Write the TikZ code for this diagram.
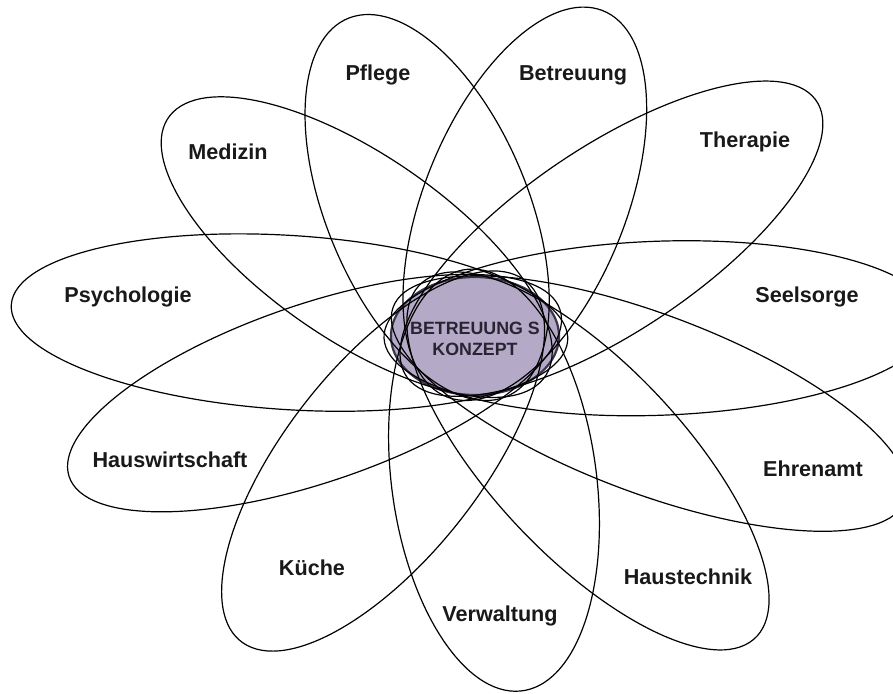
\documentclass[tikz,border=0pt]{standalone}
\usepackage{fontspec}
\setmainfont{Liberation Sans}
\definecolor{corefill}{RGB}{180,170,200}
\definecolor{coreedge}{RGB}{60,52,72}
\tikzset{
  petal/.style={draw=black, line width=0.6pt},
  lbl/.style={font=\fontsize{10.8}{13}\selectfont\bfseries, text=black!90, inner sep=0pt},
  core/.style={fill=corefill, draw=coreedge, line width=1.1pt},
  coretext/.style={font=\fontsize{8.9}{9}\selectfont\bfseries, text={rgb,255:red,40;green,36;blue,50}, align=center, inner sep=0pt}
}
\newcommand{\petal}[3]{%
  \draw[petal, rotate=#1] ({(#2-#3)/2},0) ellipse [x radius={(#2+#3)/2}, y radius=87];}
\begin{document}
\begin{tikzpicture}[x=0.5pt, y=0.5pt]
\useasboundingbox (-476,-358) rectangle (417,335);
\clip (-476,-358) rectangle (417,335);
\fill[white] (-476,-358) rectangle (417,335);
% central ellipse
\draw[core] (-1,-1) ellipse [x radius=84, y radius=59];
% petals
\begin{scope}[xscale=1.18]
\petal{108}{335}{66.9}
\petal{72.5}{342}{66.8}
\petal{40}{372}{72.3}
\petal{2.5}{388}{78}
\petal{-25}{400}{75.7}
\petal{-53}{385}{69.7}
\petal{-84}{358}{66.1}
\petal{-122}{366}{68.8}
\petal{-157}{373}{75.7}
\petal{175.5}{395}{77.9}
\petal{139}{340}{72.1}
\end{scope}
% labels
\node[lbl] (pflege) at (-98,260) {Pflege};
\node[lbl] (betreuung) at (97,260) {Betreuung};
\node[lbl] (therapie) at (269,193) {Therapie};
\node[lbl] (seelsorge) at (331,38) {Seelsorge};
\node[lbl] (ehrenamt) at (337,-134) {Ehrenamt};
\node[lbl] (haustechnik) at (212,-242) {Haustechnik};
\node[lbl] (verwaltung) at (24,-281) {Verwaltung};
\node[lbl] (kueche) at (-164,-233) {Küche};
\node[lbl] (hauswirtschaft) at (-306,-125) {Hauswirtschaft};
\node[lbl] (psychologie) at (-348,38) {Psychologie};
\node[lbl] (medizin) at (-248,183) {Medizin};
\node[coretext] (konzept) at (-1,-4) {BETREUUNG S\\[1.5pt]KONZEPT};
\end{tikzpicture}
\end{document}
